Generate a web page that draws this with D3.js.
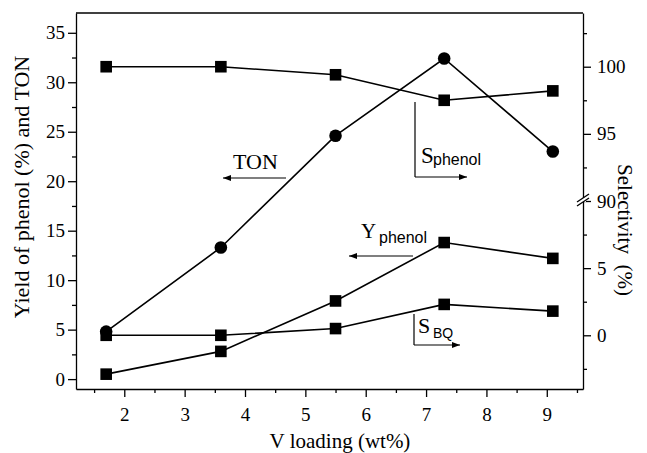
<!DOCTYPE html>
<html>
<head>
<meta charset="utf-8">
<script src="https://cdn.jsdelivr.net/npm/d3@7"></script>
<style>
  body { margin: 0; background: #fff; }
  .axis text { font-family: "Liberation Serif", "Times New Roman", serif; font-size: 19px; fill: #000; }
  .axis path, .axis line { stroke: #000; stroke-width: 1.3; }
</style>
</head>
<body>
<div id="chart"></div>
<script>
// data
const vLoading = [1.7, 3.6, 5.5, 7.3, 9.1];
const ton = [4.8, 13.3, 24.6, 32.4, 23.0];
const yPhenol = [0.5, 2.8, 7.9, 13.8, 12.2];
const sPhenol = [100, 100, 99.4, 97.5, 98.2];
const sBQ = [0, 0, 0.5, 2.3, 1.8];

const xTicks = [2, 3, 4, 5, 6, 7, 8, 9];
const xMinor = [1.5, 2.5, 3.5, 4.5, 5.5, 6.5, 7.5, 8.5, 9.5];
const leftTicks = [0, 5, 10, 15, 20, 25, 30, 35];
const leftMinor = [2.5, 7.5, 12.5, 17.5, 22.5, 27.5, 32.5];
const rightTicks = [0, 5, 90, 95, 100];
const rightMinor = [-2.5, 2.5, 7.5, 92.5, 97.5, 102.5];

// set the dimensions and margins of the graph
const margin = {top: 13, right: 64, bottom: 64, left: 76},
  width = 647 - margin.left - margin.right,
  height = 453 - margin.top - margin.bottom;

const svg = d3.select("#chart")
.append("svg")
  .attr("width", 647)
  .attr("height", 453)
.append("g")
  .attr("transform", `translate(${margin.left},${margin.top})`);

const x = d3.scaleLinear().domain([1.2, 9.6]).range([0, width]);
const yLeft = d3.scaleLinear().domain([-1, 37]).range([height, 0]);
// right axis is broken between 10 and 90
const yRight = d3.scaleLinear()
  .domain([-4, 10, 90, 104])
  .range([height, height / 2, height / 2, 0]);

// minor ticks first
svg.append("g").attr("class", "axis")
  .attr("transform", `translate(0,${height})`)
  .call(d3.axisBottom(x).tickValues(xMinor).tickSize(4).tickFormat(""))
  .select(".domain").remove();
svg.append("g").attr("class", "axis")
  .call(d3.axisLeft(yLeft).tickValues(leftMinor).tickSize(4).tickFormat(""))
  .select(".domain").remove();
svg.append("g").attr("class", "axis")
  .attr("transform", `translate(${width},0)`)
  .call(d3.axisRight(yRight).tickValues(rightMinor).tickSize(4).tickFormat(""))
  .select(".domain").remove();

// major axes
svg.append("g").attr("class", "axis")
  .attr("transform", `translate(0,${height})`)
  .call(d3.axisBottom(x).tickValues(xTicks).tickSize(8).tickSizeOuter(0).tickPadding(11));
svg.append("g").attr("class", "axis")
  .call(d3.axisLeft(yLeft).tickValues(leftTicks).tickSize(8).tickSizeOuter(0).tickPadding(3));
svg.append("g").attr("class", "axis")
  .attr("transform", `translate(${width},0)`)
  .call(d3.axisRight(yRight).tickValues(rightTicks).tickSize(8).tickSizeOuter(0).tickPadding(6));

// top frame line
svg.append("line")
  .attr("x1", 0).attr("x2", width).attr("y1", 0).attr("y2", 0)
  .style("stroke", "#000").style("stroke-width", 1.3);

// axis break marks
const bY = yRight(90);
svg.append("rect")
  .attr("x", width - 3).attr("y", bY - 3).attr("width", 6).attr("height", 4)
  .style("fill", "#fff");
[-3, 1].forEach(function(o) {
  svg.append("line")
    .attr("x1", width - 6).attr("y1", bY + o + 4)
    .attr("x2", width + 6).attr("y2", bY + o - 4)
    .style("stroke", "#000").style("stroke-width", 1.3);
});

// lines and markers
const series = [
  {vals: ton, scale: yLeft, shape: "circle"},
  {vals: yPhenol, scale: yLeft, shape: "square"},
  {vals: sPhenol, scale: yRight, shape: "square"},
  {vals: sBQ, scale: yRight, shape: "square"}
];

series.forEach(function(s) {
  const pts = vLoading.map(function(v, i) { return [x(v), s.scale(s.vals[i])]; });
  svg.append("path")
    .attr("d", d3.line()(pts))
    .style("fill", "none")
    .style("stroke", "#000")
    .style("stroke-width", 1.6);
  if (s.shape == "circle") {
    svg.selectAll("myDots")
      .data(pts).join("circle")
        .attr("cx", function(d) { return d[0]; })
        .attr("cy", function(d) { return d[1]; })
        .attr("r", 6.3)
        .style("fill", "#000");
  } else {
    svg.selectAll("mySquares")
      .data(pts).join("rect")
        .attr("x", function(d) { return d[0] - 5.8; })
        .attr("y", function(d) { return d[1] - 5.8; })
        .attr("width", 11.6)
        .attr("height", 11.6)
        .style("fill", "#000");
  }
});

// axis titles
const serif = "'Liberation Serif', 'Times New Roman', serif";
const sans = "'Liberation Sans', Arial, sans-serif";
const root = d3.select("#chart svg");

root.append("text")
  .attr("x", 340)
  .attr("y", 448)
  .attr("text-anchor", "middle")
  .style("font-family", serif).style("font-size", "21px")
  .text("V loading (wt%)");

root.append("text")
  .attr("transform", "translate(29,187) rotate(-90)")
  .attr("text-anchor", "middle")
  .style("font-family", serif).style("font-size", "22px")
  .text("Yield of phenol (%) and TON");

root.append("text")
  .attr("transform", "translate(618,230) rotate(90)")
  .attr("text-anchor", "middle")
  .style("font-family", serif).style("font-size", "21px")
  .text("Selectivity\u00a0\u00a0(%)");

// annotations
const ann = root.append("g");
function arrow(x1, y1, x2, y2) {
  ann.append("line")
    .attr("x1", x1).attr("y1", y1).attr("x2", x2).attr("y2", y2)
    .style("stroke", "#000").style("stroke-width", 1.2);
  const dir = x2 > x1 ? 1 : -1;
  ann.append("path")
    .attr("d", `M${x2},${y2}L${x2 - dir * 8},${y2 - 3}L${x2 - dir * 8},${y2 + 3}Z`)
    .style("fill", "#000");
}

// TON
ann.append("text").attr("x", 233).attr("y", 169)
  .style("font-family", serif).style("font-size", "22px").text("TON");
arrow(286, 178, 223, 178);

// S phenol
ann.append("line").attr("x1", 415).attr("y1", 102).attr("x2", 415).attr("y2", 177)
  .style("stroke", "#000").style("stroke-width", 1.2);
arrow(415, 177, 467, 177);
ann.append("text").attr("x", 421).attr("y", 163)
  .style("font-family", serif).style("font-size", "23px").text("S");
ann.append("text").attr("x", 433).attr("y", 165)
  .style("font-family", sans).style("font-size", "16px").text("phenol");

// Y phenol
ann.append("text").attr("x", 361).attr("y", 238)
  .style("font-family", serif).style("font-size", "21px").text("Y");
ann.append("text").attr("x", 379).attr("y", 243)
  .style("font-family", sans).style("font-size", "16px").text("phenol");
arrow(413, 256, 349, 256);

// S BQ
ann.append("line").attr("x1", 414).attr("y1", 314).attr("x2", 414).attr("y2", 345)
  .style("stroke", "#000").style("stroke-width", 1.2);
arrow(414, 345, 460, 345);
ann.append("text").attr("x", 418).attr("y", 333)
  .style("font-family", serif).style("font-size", "22px").text("S");
ann.append("text").attr("x", 433).attr("y", 338)
  .style("font-family", sans).style("font-size", "14px").text("BQ");
</script>
</body>
</html>
